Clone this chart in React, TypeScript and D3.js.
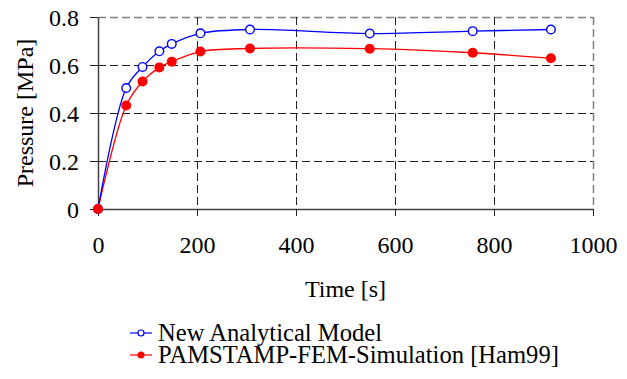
import React, { useEffect, useRef } from 'react';
import * as d3 from 'd3';

// values
const times = [0, 57, 90, 124, 149, 207, 307, 549, 757, 915];
const analytical = [0, 0.504, 0.592, 0.657, 0.688, 0.732, 0.748, 0.731, 0.741, 0.748];
const fem = [0, 0.431, 0.531, 0.590, 0.614, 0.656, 0.669, 0.668, 0.651, 0.628];
const xTicks = [0, 200, 400, 600, 800, 1000];
const yTicks = [0, 0.2, 0.4, 0.6, 0.8];
const seriesNames = ['New Analytical Model', 'PAMSTAMP-FEM-Simulation [Ham99]'];

const W = 627;
const H = 379;
const FONT = '"Liberation Serif", "Times New Roman", Times, serif';

export default function App() {
  const svgRef = useRef<SVGSVGElement>(null);

  useEffect(() => {
    if (!svgRef.current) return;
    const svg = d3.select(svgRef.current);
    svg.selectAll('*').remove();

    const left = 98, right = 593, top = 17, bottom = 209;
    const x = d3.scaleLinear().domain([0, 1000]).range([left, right]);
    const y = d3.scaleLinear().domain([0, 0.8]).range([bottom, top]);

    // gridlines
    const grid = svg.append('g');
    yTicks.filter(v => v > 0).forEach(v => {
      grid.append('line')
        .attr('x1', left).attr('x2', right)
        .attr('y1', Math.round(y(v)) + 0.5).attr('y2', Math.round(y(v)) + 0.5)
        .attr('stroke', v === 0.8 ? '#808080' : '#222')
        .attr('stroke-width', v === 0.8 ? 1.5 : 1)
        .attr('stroke-dasharray', '8,4');
    });
    xTicks.filter(v => v > 0).forEach(v => {
      grid.append('line')
        .attr('x1', Math.round(x(v)) + 0.5).attr('x2', Math.round(x(v)) + 0.5)
        .attr('y1', top).attr('y2', bottom)
        .attr('stroke', v === 1000 ? '#808080' : '#222')
        .attr('stroke-width', v === 1000 ? 1.5 : 1)
        .attr('stroke-dasharray', '8,4');
    });

    // axes
    const xAxis = svg.append('g')
      .attr('transform', `translate(0,${bottom})`)
      .call(d3.axisBottom(x).tickValues(xTicks).tickSize(7).tickSizeOuter(0).tickFormat(d3.format('d')));
    const yAxis = svg.append('g')
      .attr('transform', `translate(${left},0)`)
      .call(d3.axisLeft(y).tickValues(yTicks).tickSize(8).tickSizeOuter(0).tickPadding(11)
        .tickFormat(d => (d === 0 ? '0' : d3.format('.1f')(d as number))));
    [xAxis, yAxis].forEach(a => {
      a.select('.domain').attr('stroke', '#404040').attr('stroke-width', 1.5);
      a.selectAll('.tick line').attr('stroke', '#222');
      a.selectAll('.tick text')
        .attr('fill', '#000')
        .style('font-family', FONT)
        .style('font-size', '24px');
    });
    xAxis.selectAll('.tick text').attr('y', 44).attr('dy', null);
    yAxis.selectAll('.tick text').attr('dy', '0.34em');

    // axis titles
    svg.append('text')
      .attr('x', (left + right) / 2).attr('y', 297)
      .attr('text-anchor', 'middle')
      .style('font-family', FONT).style('font-size', '24px')
      .text('Time [s]');
    svg.append('text')
      .attr('transform', `translate(33,${(top + bottom) / 2}) rotate(-90)`)
      .attr('text-anchor', 'middle')
      .style('font-family', FONT).style('font-size', '24px')
      .text('Pressure [MPa]');

    const line = d3.line<number>()
      .x((_, i) => x(times[i]))
      .y(d => y(d))
      .curve(d3.curveCatmullRom.alpha(0.5));

    const plot = svg.append('g');
    plot.append('path').datum(fem)
      .attr('d', line).attr('fill', 'none').attr('stroke', '#ff0000').attr('stroke-width', 1.3);
    plot.append('path').datum(analytical)
      .attr('d', line).attr('fill', 'none').attr('stroke', '#0000ff').attr('stroke-width', 1.3);

    plot.selectAll('circle.a').data(analytical).join('circle')
      .attr('class', 'a')
      .attr('cx', (_, i) => x(times[i])).attr('cy', d => y(d))
      .attr('r', 4.3).attr('fill', '#fff').attr('stroke', '#0000ff').attr('stroke-width', 1.4);
    plot.selectAll('circle.f').data(fem).join('circle')
      .attr('class', 'f')
      .attr('cx', (_, i) => x(times[i])).attr('cy', d => y(d))
      .attr('r', 5).attr('fill', '#ff0000');

    // legend
    const legend = svg.append('g');
    seriesNames.forEach((name, i) => {
      const cy = 333 + i * 22;
      const color = i === 0 ? '#0000ff' : '#ff0000';
      legend.append('line')
        .attr('x1', 130).attr('x2', 152).attr('y1', cy).attr('y2', cy)
        .attr('stroke', color).attr('stroke-width', 1.2);
      legend.append('circle')
        .attr('cx', 141).attr('cy', cy).attr('r', i === 0 ? 3 : 3.5)
        .attr('fill', i === 0 ? '#fff' : color)
        .attr('stroke', color).attr('stroke-width', i === 0 ? 1.2 : 0);
      legend.append('text')
        .attr('x', 158).attr('y', cy + 8)
        .style('font-family', FONT).style('font-size', '24.6px')
        .text(name);
    });
  }, []);

  return (
    <div style={{ position: 'absolute', left: 0, top: 0, width: W, height: H, background: '#fff' }}>
      <svg ref={svgRef} width={W} height={H} />
    </div>
  );
}
